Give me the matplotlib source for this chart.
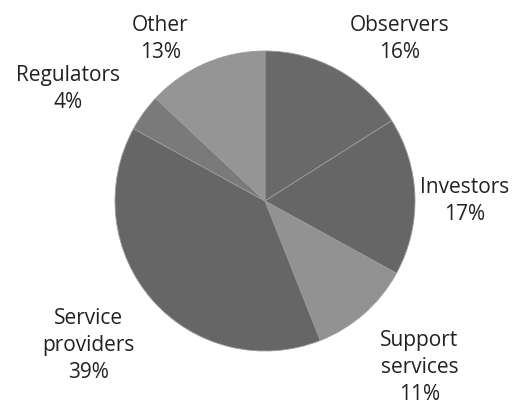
import matplotlib
matplotlib.use('Agg')
import matplotlib.pyplot as plt
import numpy as np

##### Data
categories = ['Observers', 'Investors', 'Support\nservices', 'Service\nproviders', 'Regulators', 'Other']
shares = [16, 17, 11, 39, 4, 13]
colors = ['#696969', '#666666', '#929292', '#666666', '#7a7a7a', '#959595']

# label offset: (angle in degrees, distance in radii) measured from pie centre
label_pos = [(50.4, 1.41), (0.3, 1.33), (-47.0, 1.51), (-140.9, 1.52), (150.2, 1.51), (122.8, 1.29)]

plt.rcParams['font.family'] = ['Open Sans', 'DejaVu Sans']

fig = plt.figure(figsize=(5.28, 4.14), dpi=100)
ax = fig.add_axes([0, 0, 1, 1])

ax.pie(shares, colors=colors, startangle=90, counterclock=False, radius=1,
       wedgeprops=dict(edgecolor='#9a9a9a', linewidth=0.6))

cx, cy, r_px = 265, 202, 150
ax.set_xlim(-cx / r_px, (528 - cx) / r_px)
ax.set_ylim(-(414 - cy) / r_px, cy / r_px)
ax.axis('off')

for cat, val, (ang, dist) in zip(categories, shares, label_pos):
    a = np.deg2rad(ang)
    ax.text(dist * np.cos(a), dist * np.sin(a), f'{cat}\n{val}%',
            ha='center', va='center', fontsize=15, color='#222222', linespacing=1.38)

plt.savefig('out.png', dpi=100)
plt.close()
